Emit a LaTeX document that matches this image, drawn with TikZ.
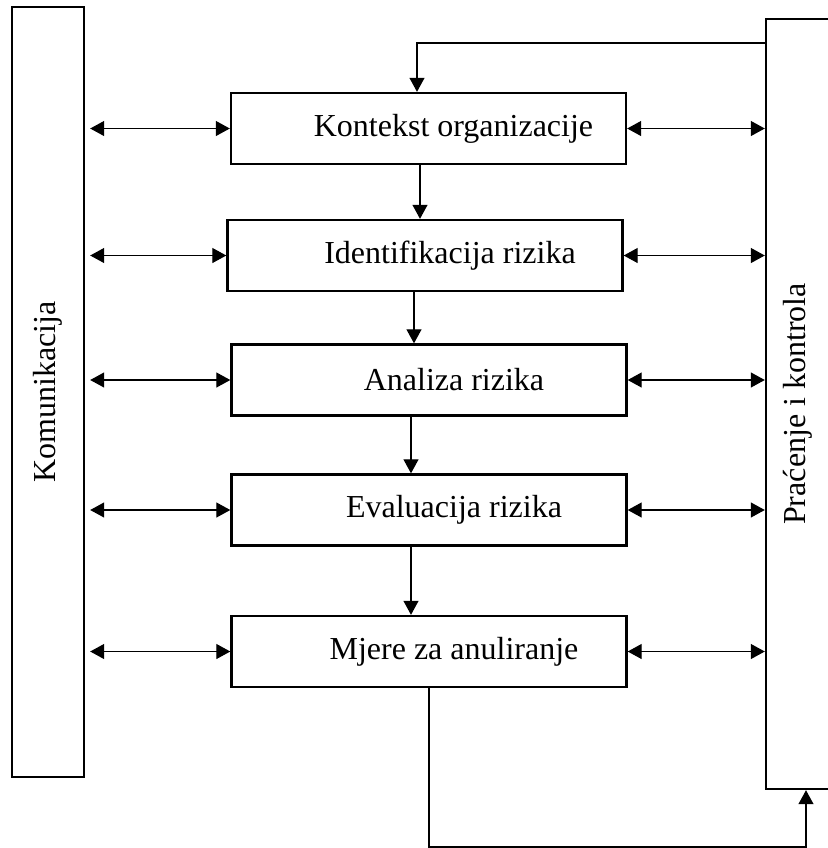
\documentclass[tikz,border=0pt]{standalone}
\usepackage{fontspec}
\setmainfont{Liberation Serif}
\usetikzlibrary{arrows.meta}
\tikzstyle{stage}=[draw, line width=1.2pt, minimum width=197.5pt, minimum height=35.5pt, inner sep=0pt, font=\fontsize{16pt}{19pt}\selectfont]
\tikzstyle{side}=[draw, line width=1.2pt, minimum height=385pt, inner sep=0pt, font=\fontsize{16pt}{19pt}\selectfont]
\tikzstyle{flow}=[line width=0.6pt, -{Triangle[length=7pt, width=7.5pt]}]
\tikzstyle{both}=[line width=0.6pt, {Triangle[length=7pt, width=7.5pt]}-{Triangle[length=7pt, width=7.5pt]}]

\begin{document}
\begin{tikzpicture}[x=0.5pt, y=-0.5pt]
\useasboundingbox (0,0) rectangle (827,848);

\node [side, minimum width=36pt] (kom) at (48, 392) {\rotatebox{90}{Komunikacija}};
\node [side, minimum width=32pt] (prac) at (798, 404) {\rotatebox{90}{Praćenje i kontrola}};

\node [stage] (kont) at (428.5, 128.5) {\hspace*{25pt}Kontekst organizacije};
\node [stage] (iden) at (425, 255.5) {\hspace*{25pt}Identifikacija rizika};
\node [stage] (anal) at (429, 380) {\hspace*{25pt}Analiza rizika};
\node [stage] (eval) at (429, 510) {\hspace*{25pt}Evaluacija rizika};
\node [stage] (mjer) at (429, 651.5) {\hspace*{25pt}Mjere za anuliranje};

\draw [flow] (kont.south -| 420,0) -- (iden.north -| 420,0);
\draw [flow] (iden.south -| 414,0) -- (anal.north -| 414,0);
\draw [flow] (anal.south -| 411,0) -- (eval.north -| 411,0);
\draw [flow] (eval.south -| 411,0) -- (mjer.north -| 411,0);

\foreach \s in {kont, iden, anal, eval, mjer} {
  \draw [both, shorten <=2.5pt] (kom.east |- \s.west) -- (\s.west);
  \draw [both] (\s.east) -- (prac.west |- \s.east);
}

\draw [flow] (prac.west |- 0,43) -- (417,43) -- (kont.north -| 417,0);
\draw [flow] (mjer.south -| 429,0) -- (429,847) -- (806,847) -- (prac.south -| 806,0);

\end{tikzpicture}
\end{document}
